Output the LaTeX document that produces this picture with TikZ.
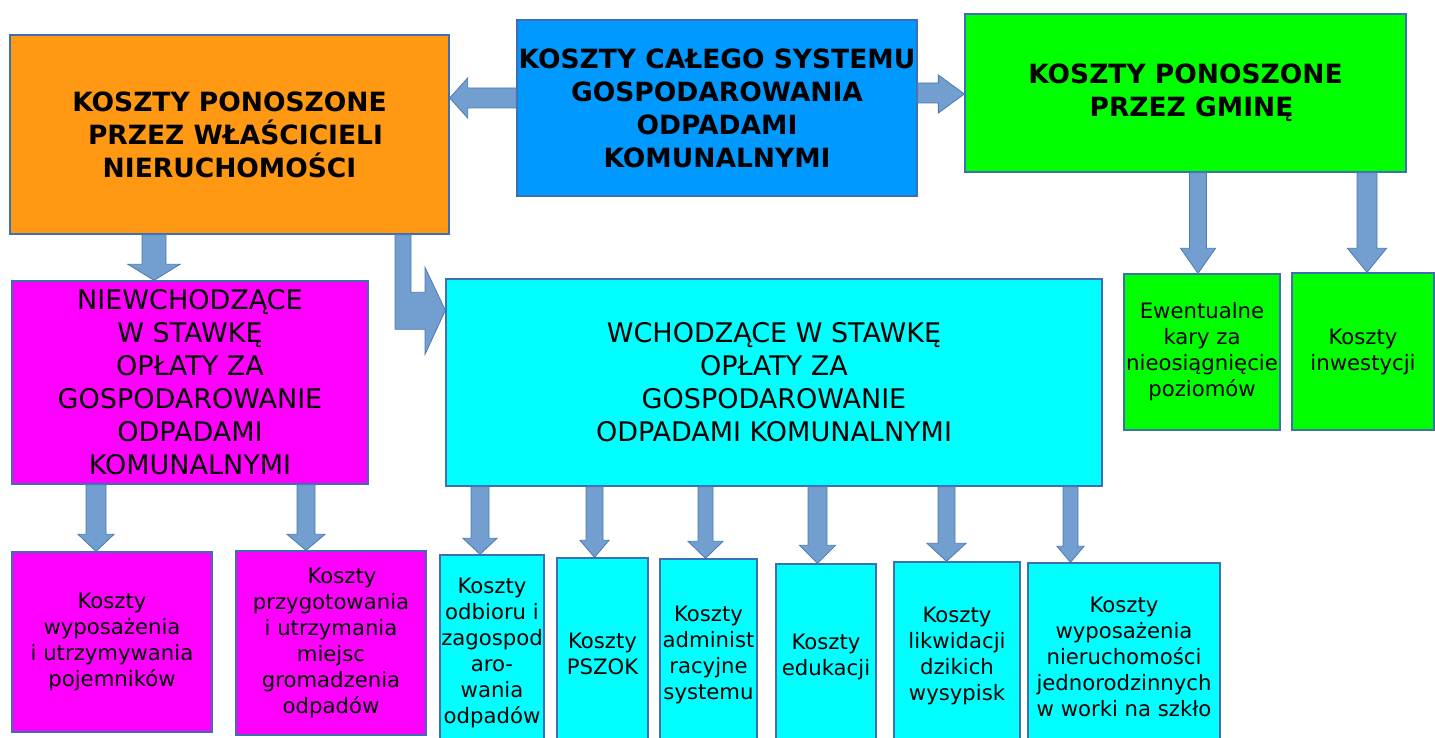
\documentclass[tikz,border=0pt]{standalone}
\usepackage{fontspec}
\setmainfont{DejaVu Sans}
\usetikzlibrary{positioning, calc}

\definecolor{orangeC}{RGB}{255,152,18}
\definecolor{blueC}{RGB}{0,153,255}
\definecolor{greenC}{RGB}{0,255,0}
\definecolor{magentaC}{RGB}{255,0,255}
\definecolor{cyanC}{RGB}{0,255,255}
\definecolor{frameC}{RGB}{62,110,180}
\definecolor{arrowC}{RGB}{114,159,207}
\definecolor{arrowD}{RGB}{74,122,182}

% block arrow pointing down: source, target, x, shaft half, head half, head length
\newcommand{\blkdown}[6]{%
  \draw[blkarrow] let \p1=(#1.south), \p2=(#2.north) in
    (#3-#4,\y1) -- (#3-#4,\y2+#6) -- (#3-#5,\y2+#6) -- (#3,\y2)
    -- (#3+#5,\y2+#6) -- (#3+#4,\y2+#6) -- (#3+#4,\y1) -- cycle;}

\begin{document}
\begin{tikzpicture}[
    x=1pt, y=1pt,
    % Styles
    box/.style={ % Coloured box
        rectangle,
        draw=frameC,
        line width=1.3pt,
        inner sep=0pt,
        align=center
    },
    headtext/.style={ % Top level boxes
        font=\fontsize{26.5}{33}\selectfont\bfseries
    },
    midtext/.style={
        font=\fontsize{27}{33}\selectfont
    },
    itemtext/.style={ % Bottom level boxes
        font=\fontsize{21.2}{26}\selectfont
    },
    blkarrow/.style={ % Block arrows
        fill=arrowC,
        draw=arrowD,
        line width=0.8pt,
        line join=miter
    }
]
    \useasboundingbox (0,0) rectangle (1435,738);

    % Top level
    \node[box, headtext, fill=orangeC, minimum width=439pt, minimum height=199pt] (wlasc) at (229.5,603.5)
        {KOSZTY PONOSZONE\\ \hspace{12pt}PRZEZ WŁAŚCICIELI\\ NIERUCHOMOŚCI};
    \node[box, headtext, fill=blueC, minimum width=400pt, minimum height=176pt] (system) at (717,630)
        {KOSZTY CAŁEGO SYSTEMU\\ GOSPODAROWANIA\\ ODPADAMI\\ KOMUNALNYMI};
    \node[box, headtext, fill=greenC, minimum width=441pt, minimum height=158pt] (gmina) at (1185.5,645)
        {KOSZTY PONOSZONE\\ \hspace{12pt}PRZEZ GMINĘ};

    % Middle level
    \node[box, midtext, fill=magentaC, minimum width=356pt, minimum height=203pt] (niewch) at (190,355.5)
        {NIEWCHODZĄCE\\ W STAWKĘ\\ OPŁATY ZA\\ GOSPODAROWANIE\\ ODPADAMI\\ KOMUNALNYMI};
    \node[box, midtext, fill=cyanC, minimum width=656pt, minimum height=207pt] (wchodz) at (774,355.5)
        {WCHODZĄCE W STAWKĘ\\ OPŁATY ZA\\ GOSPODAROWANIE\\ ODPADAMI KOMUNALNYMI};
    \node[box, itemtext, fill=greenC, minimum width=156pt, minimum height=156pt] (kary) at (1202,386)
        {Ewentualne\\ kary za\\ nieosiągnięcie\\ poziomów};
    \node[box, itemtext, fill=greenC, minimum width=142pt, minimum height=157pt] (inwest) at (1363,386.5)
        {Koszty\\ inwestycji};

    % Bottom level
    \node[box, itemtext, fill=magentaC, minimum width=200pt, minimum height=180pt] (pojem) at (112,96)
        {Koszty\\ wyposażenia\\ i utrzymywania\\ pojemników};
    \node[box, itemtext, fill=magentaC, minimum width=190pt, minimum height=184pt] (miejsc) at (331,95)
        {\hspace{22pt}Koszty\\ przygotowania\\ i utrzymania\\ miejsc\\ gromadzenia\\ odpadów};
    \node[box, itemtext, fill=cyanC, minimum width=104pt, minimum height=195pt] (odbior) at (492,85.5)
        {Koszty\\ odbioru i\\ zagospod\\ aro-\\ wania\\ odpadów};
    \node[box, itemtext, fill=cyanC, minimum width=91pt, minimum height=192pt] (pszok) at (602.5,84)
        {Koszty\\ PSZOK};
    \node[box, itemtext, fill=cyanC, minimum width=97pt, minimum height=191pt] (admin) at (708.5,83.5)
        {Koszty\\ administ\\ racyjne\\ systemu};
    \node[box, itemtext, fill=cyanC, minimum width=100pt, minimum height=186pt] (eduk) at (826,81)
        {Koszty\\ edukacji};
    \node[box, itemtext, fill=cyanC, minimum width=126pt, minimum height=188pt] (likw) at (957,82)
        {Koszty\\ likwidacji\\ dzikich\\ wysypisk};
    \node[box, itemtext, fill=cyanC, minimum width=192pt, minimum height=187pt] (worki) at (1124,81.5)
        {Koszty\\ wyposażenia\\ nieruchomości\\ jednorodzinnych\\ w worki na szkło};

    % Arrows from the whole system
    \draw[blkarrow] let \p1=(system.west), \p2=(wlasc.east) in
        (\x1,650) -- (\x2+18,650) -- (\x2+18,660) -- (\x2,640) -- (\x2+18,620)
        -- (\x2+18,630) -- (\x1,630) -- cycle;
    \draw[blkarrow] let \p1=(system.east), \p2=(gmina.west) in
        (\x1,655) -- (\x2-26,655) -- (\x2-26,663) -- (\x2,644) -- (\x2-26,625)
        -- (\x2-26,635) -- (\x1,635) -- cycle;

    % Arrows from the owners
    \blkdown{wlasc}{niewch}{154}{12}{26}{16}
    \draw[blkarrow] let \p1=(wlasc.south), \p2=(wchodz.north west) in
        (395,\y1) -- (395,\y2-51) -- (425,\y2-51) -- (425,\y2-76) -- (\x2,\y2-32)
        -- (425,\y2+11) -- (425,\y2-14) -- (411,\y2-14) -- (411,\y1) -- cycle;

    % Arrows from the commune
    \blkdown{gmina}{kary}{1198}{8.5}{17.5}{25}
    \blkdown{gmina}{inwest}{1367}{10}{19.5}{24}

    % Arrows to the bottom boxes
    \blkdown{niewch}{pojem}{96}{10}{18}{17}
    \blkdown{niewch}{miejsc}{306}{9}{19}{16}
    \blkdown{wchodz}{odbior}{480}{9}{17}{16}
    \blkdown{wchodz}{pszok}{594.5}{8.5}{14.5}{17}
    \blkdown{wchodz}{admin}{705.5}{7.5}{17.5}{17}
    \blkdown{wchodz}{eduk}{817.5}{9.5}{18}{18}
    \blkdown{wchodz}{likw}{946.5}{8.5}{19.5}{18}
    \blkdown{wchodz}{worki}{1070.5}{7.5}{13.5}{16}
\end{tikzpicture}
\end{document}
